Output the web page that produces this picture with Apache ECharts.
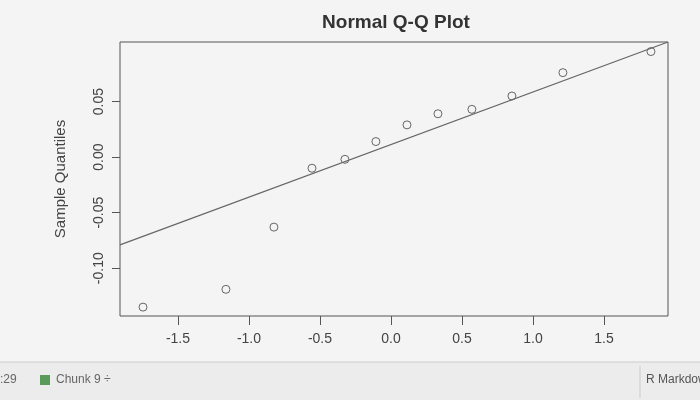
<!DOCTYPE html>
<html><head><meta charset="utf-8">
<script src="https://cdn.jsdelivr.net/npm/echarts@6/dist/echarts.min.js"></script>
<style>html,body{margin:0;padding:0;background:#f4f4f4}#c{width:700px;height:400px}</style>
</head><body><div id="c"></div>
<script>
const theoretical = [-1.746, -1.162, -0.824, -0.556, -0.324, -0.106, 0.113, 0.331, 0.570, 0.852, 1.211, 1.831];
const sample = [-0.135, -0.119, -0.063, -0.010, -0.002, 0.014, 0.029, 0.039, 0.043, 0.055, 0.076, 0.095];
const lineX = [-1.908, 1.951];
const lineY = [-0.079, 0.1036];
const xTicks = [-1.5, -1.0, -0.5, 0.0, 0.5, 1.0, 1.5];
const yTicks = [-0.10, -0.05, 0.00, 0.05];

var myChart = echarts.init(document.getElementById('c'), null, {renderer: 'canvas'});
var option = {
    backgroundColor: '#f4f4f4',
    title: {
        text: 'Normal Q-Q Plot', left: 391, top: 8, textAlign: 'center',
        textStyle: {fontFamily: 'Liberation Sans', fontSize: 19, fontWeight: 'bold', color: '#333'}
    },
    grid: {left: 120, right: 32, top: 42, bottom: 84, show: true, borderColor: '#555', borderWidth: 1},
    xAxis: {
        type: 'value', min: -1.908, max: 1.951,
        axisLine: {show: false, onZero: false}, splitLine: {show: false},
        axisTick: {show: true, length: 9, customValues: xTicks, lineStyle: {color: '#555'}},
        axisLabel: {customValues: xTicks, margin: 16, color: '#444', fontSize: 14,
            fontFamily: 'Liberation Sans', formatter: v => v.toFixed(1)}
    },
    yAxis: {
        type: 'value', min: -0.143, max: 0.1036,
        axisLine: {show: false, onZero: false}, splitLine: {show: false},
        axisTick: {show: true, length: 8, customValues: yTicks, lineStyle: {color: '#555'}},
        axisLabel: {customValues: yTicks, rotate: 90, margin: 14, color: '#444', fontSize: 14,
            fontFamily: 'Liberation Sans', formatter: v => v.toFixed(2)},
        name: 'Sample Quantiles', nameLocation: 'middle', nameGap: 52, nameRotate: 90,
        nameTextStyle: {color: '#444', fontSize: 15, fontFamily: 'Liberation Sans'}
    },
    series: [
        {
            type: 'line', data: lineX.map((x, i) => [x, lineY[i]]), symbol: 'none',
            lineStyle: {color: '#666', width: 1.2}, silent: true
        },
        {
            type: 'scatter', data: theoretical.map((x, i) => [x, sample[i]]),
            symbol: 'circle', symbolSize: 8,
            itemStyle: {color: 'rgba(0,0,0,0)', borderColor: '#444', borderWidth: 1}
        }
    ],
    graphic: [
        {type: 'rect', shape: {x: 0, y: 362, width: 700, height: 38}, style: {fill: '#ececec'}},
        {type: 'line', shape: {x1: 0, y1: 362, x2: 700, y2: 362}, style: {stroke: '#ccc'}},
        {type: 'text', left: 0, top: 374, style: {text: ':29', fill: '#666', font: '12px Liberation Sans'}},
        {type: 'rect', shape: {x: 40, y: 375, width: 10, height: 10}, style: {fill: '#5a9a5a'}},
        {type: 'text', left: 56, top: 374, style: {text: 'Chunk 9 ÷', fill: '#666', font: '12px Liberation Sans'}},
        {type: 'line', shape: {x1: 640, y1: 366, x2: 640, y2: 398}, style: {stroke: '#ccc'}},
        {type: 'text', left: 646, top: 374, style: {text: 'R Markdown', fill: '#555', font: '12px Liberation Sans'}}
    ]
};
myChart.setOption(option);
window.addEventListener('resize', myChart.resize);
</script></body></html>
